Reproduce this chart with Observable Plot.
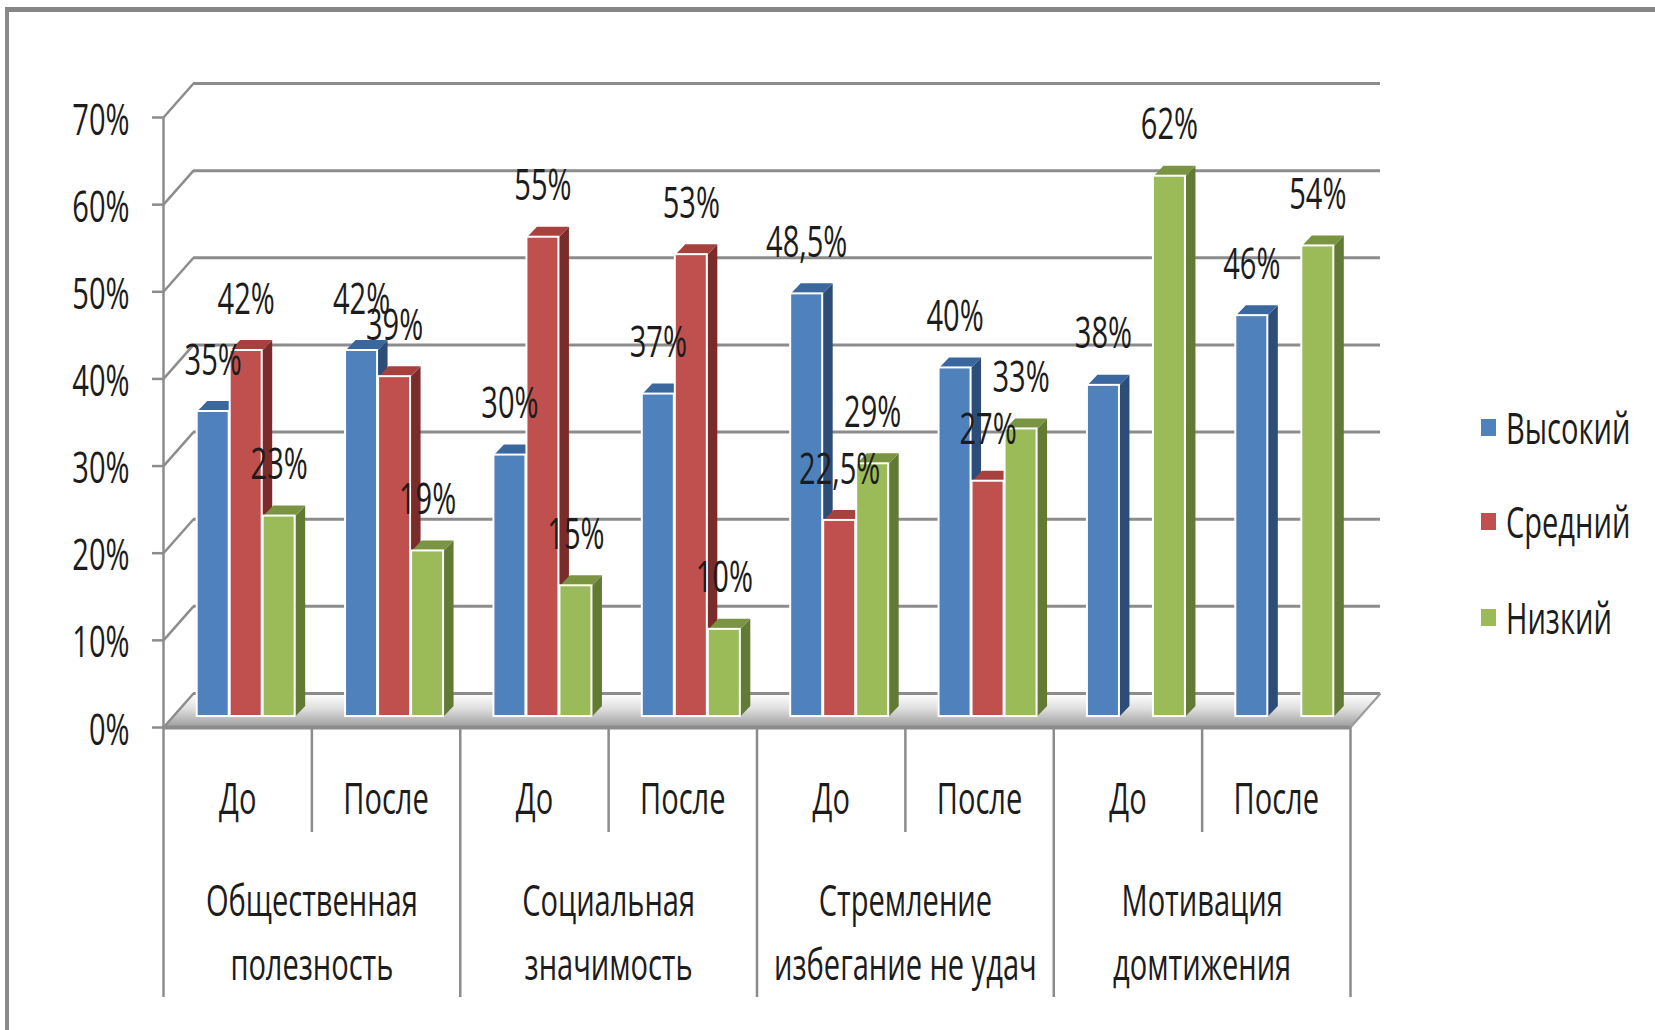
<!DOCTYPE html>
<html><head><meta charset="utf-8">
<script src="https://cdn.jsdelivr.net/npm/d3@7"></script>
<script src="https://cdn.jsdelivr.net/npm/@observablehq/plot@0.6"></script>
<style>
html,body{margin:0;padding:0;background:#fff;}
#wrap{position:relative;width:1655px;height:1030px;overflow:hidden;font-family:"Open Sans",sans-serif;}
#frame{position:absolute;left:5px;top:7px;width:1700px;height:1100px;border-top:5px solid #868686;border-left:4px solid #8a8a8a;}
#chart{position:absolute;left:0;top:0;}
.leg{position:absolute;left:1481px;height:0;}
.leg .sw{position:absolute;left:0;width:15px;height:17px;top:-8px;}
.leg .lb{position:absolute;left:25px;top:0;transform:translateY(-50%) scaleX(0.66);transform-origin:left center;font-size:44px;line-height:1;color:#1c1c1c;white-space:nowrap;}
</style></head>
<body><div id="wrap"><div id="frame"></div><div id="chart"></div><div id="legend"></div></div>
<script>
// ---- data ----
const groups = ["Общественная\nполезность", "Социальная\nзначимость", "Стремление\nизбегание не удач", "Мотивация\nдомтижения"];
const phases = ["До", "После"];
const seriesNames = ["Высокий", "Средний", "Низкий"];
const high = [35, 42, 30, 37, 48.5, 40, 38, 46];
const mid  = [42, 39, 55, 53, 22.5, 27, null, null];
const low  = [23, 19, 15, 10, 29, 33, 62, 54];
const yTicks = [0, 10, 20, 30, 40, 50, 60, 70];

// ---- styling ----
const frontColors = ["#4f81bd", "#c0504d", "#9bbb59"];
const topColors   = ["#3b679f", "#a8403e", "#7a9442"];
const sideColors  = ["#2c4d78", "#7b2c2a", "#637a35"];
const gridColor = "#8c8c8c";
const textColor = "#1c1c1c";
const FONT = "Open Sans";
const FS = 44;
const SX = 0.66;

const X0 = 163, X1 = 1350, Y0 = 727, Y70 = 117;
const kx = (X1 - X0) / 8, ky = (Y0 - Y70) / 70;
const FDX = 30 / kx, FDY = 34 / ky;        // floor / wall depth
const PDX = 8.5, PDY = -11;                // bar plane shift (px)
const BDX = 10 / kx, BDY = 10.5 / ky;      // bar depth
const slot = 33 / kx, bw = 32 / kx;
const yShort = (Y0 - 832) / ky, yLong = (Y0 - 997) / ky;

const fmt = v => String(v).replace(".", ",") + "%";
const seriesVals = [high, mid, low];

// bars
const bars = [];
seriesVals.forEach((arr, s) => arr.forEach((v, i) => {
  if (v == null) return;
  const c = i + 0.5 + (s - 1) * slot;
  bars.push({s, i, v, c, x1: c - bw / 2, x2: c + bw / 2, id: s + "-" + i});
}));
const tops = [], sides = [];
for (const b of bars) {
  tops.push({id: b.id, s: b.s, x: b.x1, y: b.v}, {id: b.id, s: b.s, x: b.x1 + BDX, y: b.v + BDY},
            {id: b.id, s: b.s, x: b.x2 + BDX, y: b.v + BDY}, {id: b.id, s: b.s, x: b.x2, y: b.v});
  sides.push({id: b.id, s: b.s, x: b.x2, y: 0}, {id: b.id, s: b.s, x: b.x2 + BDX, y: BDY},
             {id: b.id, s: b.s, x: b.x2 + BDX, y: b.v + BDY}, {id: b.id, s: b.s, x: b.x2, y: b.v});
}
const floorPts = [{x: 0, y: 0}, {x: 8, y: 0}, {x: 8 + FDX, y: FDY}, {x: FDX, y: FDY}];
const catLabels = d3.range(8).map(i => ({x: i + 0.5, t: phases[i % 2]}));
const groupLabels = groups.map((g, k) => ({x: 2 * k + 1, t: g}));
const seps = d3.range(1, 9);

const marks = [
  Plot.line(floorPts, {x: "x", y: "y", fill: "url(#floorGrad)", stroke: "none"}),
  Plot.ruleY(yTicks, {y: v => v + FDY, x1: () => FDX, x2: () => 8 + FDX, stroke: gridColor, strokeWidth: 3}),
  Plot.link(yTicks, {x1: () => 0, y1: v => v, x2: () => FDX, y2: v => v + FDY, stroke: gridColor, strokeWidth: 2.5}),
  Plot.link([0], {x1: () => 8, y1: () => 0, x2: () => 8 + FDX, y2: () => FDY, stroke: "#9a9a9a", strokeWidth: 2}),
  Plot.ruleY([0], {x1: () => 0, x2: () => 8, stroke: gridColor, strokeWidth: 4})
];
for (let s = 0; s < 3; s++) {
  marks.push(Plot.line(sides.filter(d => d.s === s), {x: "x", y: "y", z: "id", fill: sideColors[s], stroke: "none", dx: PDX, dy: PDY}));
  marks.push(Plot.line(tops.filter(d => d.s === s), {x: "x", y: "y", z: "id", fill: topColors[s], stroke: "none", dx: PDX, dy: PDY}));
  marks.push(Plot.rect(bars.filter(d => d.s === s), {x1: "x1", x2: "x2", y1: () => 0, y2: "v", fill: frontColors[s], stroke: "white", strokeWidth: 2, dx: PDX, dy: PDY}));
}
marks.push(
  Plot.ruleX([0], {y1: () => 70, y2: () => yLong, stroke: gridColor, strokeWidth: 2.5}),
  Plot.ruleY(yTicks, {y: v => v, x1: () => -11 / kx, x2: () => 0, stroke: gridColor, strokeWidth: 2.5}),
  Plot.ruleX(seps, {x: d => d, y1: () => 0, y2: d => d % 2 ? yShort : yLong, stroke: gridColor, strokeWidth: 2.5}),
  Plot.text(yTicks, {x: () => 0, y: v => v, text: v => v + "%", textAnchor: "end", dx: -34, dy: 3, fontSize: FS, fontFamily: FONT, fill: textColor}),
  Plot.text(catLabels, {x: "x", y: () => 0, text: "t", dy: 72, fontSize: FS, fontFamily: FONT, fill: textColor}),
  Plot.text(groupLabels, {x: "x", y: () => 0, text: "t", dy: 200, lineHeight: 64 / FS, fontSize: FS, fontFamily: FONT, fill: textColor}),
  Plot.text(bars, {x: "c", y: "v", text: d => fmt(d.v), dx: PDX, dy: PDY - 51, fontSize: FS, fontFamily: FONT, fill: textColor})
);

const svg = Plot.plot({
  width: 1655, height: 1030,
  marginTop: 0, marginRight: 0, marginBottom: 0, marginLeft: 0,
  x: {domain: [0, 8], range: [X0, X1], axis: null},
  y: {domain: [0, 70], range: [Y0, Y70], axis: null},
  style: {background: "transparent", overflow: "visible"},
  marks
});

const ns = "http://www.w3.org/2000/svg";
const defs = document.createElementNS(ns, "defs");
defs.innerHTML = `<linearGradient id="floorGrad" x1="0" y1="1" x2="0" y2="0">
  <stop offset="0" stop-color="#9c9c9c"/><stop offset="0.2" stop-color="#b4b4b4"/>
  <stop offset="0.55" stop-color="#dedede"/><stop offset="1" stop-color="#ffffff"/></linearGradient>`;
svg.insertBefore(defs, svg.firstChild);

// condense text horizontally (reference font is narrow)
svg.querySelectorAll("text").forEach(t => {
  let tr = t.getAttribute("transform") || "";
  const x = +t.getAttribute("x") || 0, y = +t.getAttribute("y") || 0;
  if (x || y) { t.removeAttribute("x"); t.removeAttribute("y"); tr += ` translate(${x},${y})`; }
  t.setAttribute("transform", tr + ` scale(${SX},1)`);
});
document.getElementById("chart").appendChild(svg);

// legend
const legY = [427, 521, 617];
const leg = document.getElementById("legend");
seriesNames.forEach((n, s) => {
  const d = document.createElement("div");
  d.className = "leg"; d.style.top = legY[s] + "px";
  d.innerHTML = `<div class="sw" style="background:${frontColors[s]}"></div><div class="lb">${n}</div>`;
  leg.appendChild(d);
});
</script>
</body></html>
